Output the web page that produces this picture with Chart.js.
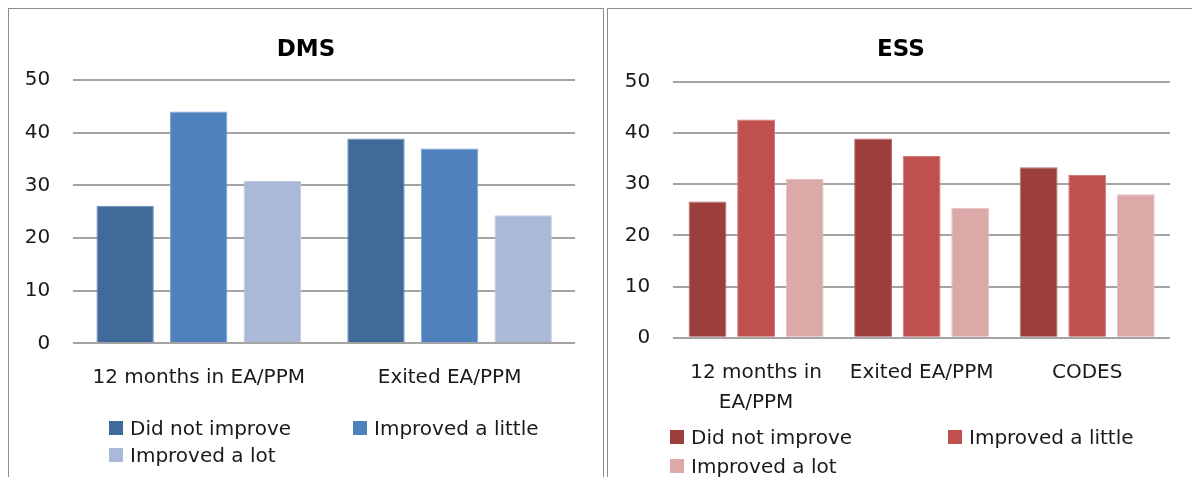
<!DOCTYPE html>
<html>
<head>
<meta charset="utf-8">
<script src="https://cdn.jsdelivr.net/npm/chart.js@4.4.0/dist/chart.umd.min.js"></script>
<style>
  html, body { margin: 0; padding: 0; background: #fff; }
  body { width: 1192px; height: 477px; overflow: hidden; position: relative; font-family: "DejaVu Sans", sans-serif; }
  .panel { position: absolute; top: 8px; height: 490px; border: 1px solid #8e8e8e; border-bottom: none; box-sizing: border-box; }
  #panelDms { left: 8px; width: 596px; }
  #panelEss { left: 607px; width: 600px; }
  canvas { position: absolute; }
  #dmsCanvas { left: 9px; top: 9px; }
  #essCanvas { left: 608px; top: 9px; }
  .ttl { position: absolute; width: 200px; text-align: center; font-size: 23px; line-height: 26px; font-weight: bold; color: #000; }
  .sw { position: absolute; width: 14px; height: 14px; }
  .lt { position: absolute; font-size: 20px; line-height: 20px; color: #1a1a1a; white-space: nowrap; }
</style>
</head>
<body>
<div class="panel" id="panelDms"></div>
<div class="panel" id="panelEss"></div>
<canvas id="dmsCanvas" width="594" height="400"></canvas>
<canvas id="essCanvas" width="584" height="420"></canvas>
<div id="overlay"></div>
<script>
// Response categories (series)
const seriesNames = ['Did not improve', 'Improved a little', 'Improved a lot'];

// DMS panel
const dmsTitle = 'DMS';
const dmsCategories = ['12 months in EA/PPM', 'Exited EA/PPM'];
const dmsDidNotImprove = [26.1, 38.9];
const dmsImprovedLittle = [44.0, 37.0];
const dmsImprovedLot = [30.8, 24.3];

// ESS panel
const essTitle = 'ESS';
const essCategories = [['12 months in', 'EA/PPM'], 'Exited EA/PPM', 'CODES'];
const essDidNotImprove = [26.6, 38.9, 33.3];
const essImprovedLittle = [42.6, 35.5, 31.8];
const essImprovedLot = [31.0, 25.4, 28.0];

// Value axis ticks
const yTicks = [0, 10, 20, 30, 40, 50];

const dmsColors = ['#3F6A9A', '#4F81BD', '#AAB9D7'];
const essColors = ['#9C3E3C', '#C0504D', '#DBA9A8'];

function tint(hex, amt) {
  const n = parseInt(hex.slice(1), 16);
  const r = (n >> 16) & 255, g = (n >> 8) & 255, b = n & 255;
  const f = c => Math.round(c + (255 - c) * amt);
  return `rgb(${f(r)},${f(g)},${f(b)})`;
}

const textColor = '#1a1a1a';
const gridColor = '#a4a4a4';
const fontFamily = '"DejaVu Sans", sans-serif';

function buildChart(canvasId, categories, series, colors, geo) {
  const ctx = document.getElementById(canvasId);
  return new Chart(ctx, {
    type: 'bar',
    data: {
      labels: categories,
      datasets: series.map((vals, i) => ({
        label: seriesNames[i],
        data: vals,
        backgroundColor: colors[i],
        borderColor: tint(colors[i], 0.25),
        borderWidth: 1,
        categoryPercentage: 0.88,
        barPercentage: 0.78
      }))
    },
    options: {
      responsive: false,
      animation: false,
      events: [],
      layout: { padding: { left: 0, right: geo.padRight, top: geo.padTop, bottom: 0 } },
      plugins: {
        legend: { display: false },
        tooltip: { enabled: false },
        title: { display: false }
      },
      scales: {
        x: {
          grid: { display: false, drawTicks: false },
          border: { display: false },
          ticks: {
            color: textColor,
            padding: geo.xTickPad,
            autoSkip: false,
            maxRotation: 0,
            minRotation: 0,
            font: { family: fontFamily, size: 20, lineHeight: 1.5 }
          },
          afterFit: s => { s.height = geo.xAxisHeight; }
        },
        y: {
          min: yTicks[0],
          max: yTicks[yTicks.length - 1],
          afterBuildTicks: s => { s.ticks = yTicks.map(v => ({ value: v })); },
          grid: { color: gridColor, lineWidth: 2, drawTicks: false },
          border: { display: false },
          ticks: {
            color: textColor,
            padding: 23,
            font: { family: fontFamily, size: 20 }
          },
          afterFit: s => { s.width = geo.yAxisWidth; }
        }
      }
    }
  });
}

buildChart('dmsCanvas', dmsCategories,
  [dmsDidNotImprove, dmsImprovedLittle, dmsImprovedLot], dmsColors,
  { padRight: 28, padTop: 71, yAxisWidth: 64.3, xAxisHeight: 65.7, xTickPad: 19.7 });

buildChart('essCanvas', essCategories,
  [essDidNotImprove, essImprovedLittle, essImprovedLot], essColors,
  { padRight: 22, padTop: 72.7, yAxisWidth: 65.3, xAxisHeight: 91.3, xTickPad: 20 });

const host = document.getElementById('overlay');

// Panel titles
function addTitle(text, cx, cy) {
  const d = document.createElement('div');
  d.className = 'ttl';
  d.style.left = (cx - 100) + 'px';
  d.style.top = (cy - 13) + 'px';
  d.textContent = text;
  host.appendChild(d);
}
addTitle(dmsTitle, 306, 48);
addTitle(essTitle, 901, 48);

// Legends laid out in two columns under each chart
function buildLegend(colors, spots) {
  seriesNames.forEach((name, i) => {
    const [x, yc] = spots[i];
    const sw = document.createElement('div');
    sw.className = 'sw';
    sw.style.left = x + 'px';
    sw.style.top = (yc - 7) + 'px';
    sw.style.background = colors[i];
    host.appendChild(sw);
    const t = document.createElement('div');
    t.className = 'lt';
    t.style.left = (x + 21) + 'px';
    t.style.top = (yc - 10) + 'px';
    t.textContent = name;
    host.appendChild(t);
  });
}
buildLegend(dmsColors, [[109, 428], [353, 428], [109, 455]]);
buildLegend(essColors, [[670, 437], [948, 437], [670, 466]]);
</script>
</body>
</html>
